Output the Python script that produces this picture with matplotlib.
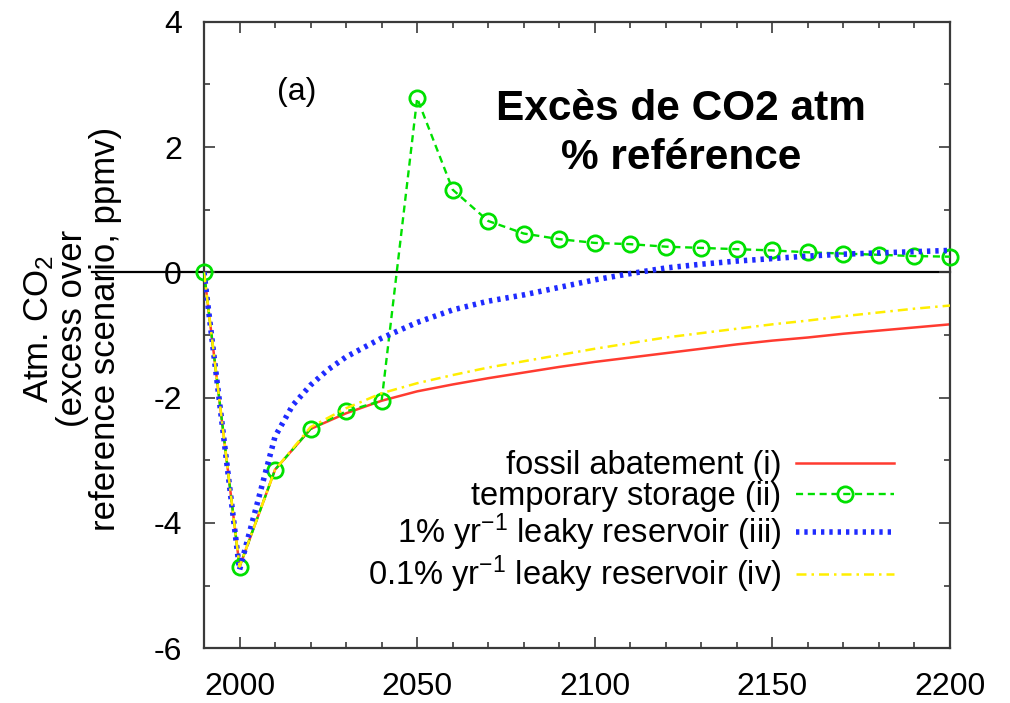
import numpy as np
import matplotlib
matplotlib.use('Agg')
import matplotlib.pyplot as plt

plt.rcParams['font.family'] = ['Liberation Sans', 'DejaVu Sans']
plt.rcParams['mathtext.fontset'] = 'custom'
plt.rcParams['mathtext.rm'] = 'Liberation Sans'
plt.rcParams['mathtext.it'] = 'Liberation Sans'
plt.rcParams['axes.unicode_minus'] = False

# fossil abatement (i)
yr_fossil = [1990, 2000, 2010, 2020, 2030, 2040, 2050, 2060, 2070, 2080, 2090, 2100,
             2110, 2120, 2130, 2140, 2150, 2160, 2170, 2180, 2190, 2200]
co2_fossil = [0, -4.7, -3.15, -2.5, -2.25, -2.05, -1.9, -1.79, -1.69, -1.6, -1.51, -1.43,
              -1.36, -1.29, -1.22, -1.15, -1.09, -1.04, -0.98, -0.93, -0.88, -0.83]

# temporary storage (ii)
yr_temp = [1990, 2000, 2010, 2020, 2030, 2040, 2050, 2060, 2070, 2080, 2090, 2100,
           2110, 2120, 2130, 2140, 2150, 2160, 2170, 2180, 2190, 2200]
co2_temp = [0, -4.7, -3.15, -2.5, -2.22, -2.05, 2.78, 1.32, 0.82, 0.62, 0.53, 0.47,
            0.45, 0.41, 0.39, 0.37, 0.35, 0.32, 0.30, 0.28, 0.26, 0.25]

# 1% per year leaky reservoir (iii)
yr_leak1 = [1990, 2000, 2010, 2015, 2020, 2025, 2030, 2040, 2050, 2060, 2070, 2080, 2090,
            2100, 2110, 2120, 2130, 2140, 2150, 2160, 2170, 2180, 2190, 2200]
co2_leak1 = [0, -4.75, -2.62, -2.12, -1.8, -1.55, -1.35, -1.05, -0.8, -0.6, -0.46, -0.36, -0.24,
             -0.12, -0.02, 0.07, 0.13, 0.18, 0.22, 0.26, 0.29, 0.31, 0.33, 0.35]

# 0.1% per year leaky reservoir (iv)
yr_leak01 = [1990, 2000, 2010, 2020, 2030, 2040, 2050, 2060, 2070, 2080, 2090, 2100,
             2110, 2120, 2130, 2140, 2150, 2160, 2170, 2180, 2190, 2200]
co2_leak01 = [0, -4.7, -3.15, -2.47, -2.17, -1.93, -1.77, -1.64, -1.52, -1.42, -1.32, -1.22,
              -1.13, -1.04, -0.97, -0.9, -0.83, -0.77, -0.7, -0.64, -0.58, -0.53]

labels = ['fossil abatement (i)',
          'temporary storage (ii)',
          '1% yr$^{-1}$ leaky reservoir (iii)',
          '0.1% yr$^{-1}$ leaky reservoir (iv)']

fig = plt.figure(figsize=(10.1, 7.03), dpi=100)
ax = fig.add_axes([0.202, 0.078, 0.7386, 0.891])

ax.axhline(0, xmin=-0.15, xmax=1, color='k', lw=1.6, clip_on=False, zorder=1)

ax.plot(yr_fossil, co2_fossil, '-', color='#ff3b30', lw=1.8, label=labels[0], zorder=2)
ax.plot(yr_temp, co2_temp, '--', color='#00e000', lw=1.7, marker='o', ms=11,
        mfc='none', mec='#00e000', mew=2, dashes=(3, 2), label=labels[1], zorder=3,
        clip_on=False)
ax.plot(yr_leak1, co2_leak1, ':', color='#1f2bff', lw=4, dashes=(0.6, 0.9),
        label=labels[2], zorder=4)
ax.plot(yr_leak01, co2_leak01, '-.', color='#ffee00', lw=1.8, dashes=(4, 2, 1, 2),
        label=labels[3], zorder=5)

ax.set_xlim(1990, 2200)
ax.set_ylim(-6, 4)
ax.set_xticks([2000, 2050, 2100, 2150, 2200])
ax.set_xticks(np.arange(1990, 2201, 10), minor=True)
ax.set_yticks([-6, -4, -2, 0, 2, 4])
ax.set_yticks(np.arange(-6, 5, 1), minor=True)
ax.tick_params(which='both', direction='in', top=True, right=True,
               labelsize=23, color='#3a3a3a', width=1.2)
ax.tick_params(which='major', length=8)
ax.tick_params(which='minor', length=4)
ax.tick_params(axis='y', pad=16)
ax.tick_params(axis='x', pad=17)
for s in ax.spines.values():
    s.set_linewidth(1.6)
    s.set_color('#3a3a3a')

ax.set_ylabel('Atm. CO$_2$\n(excess over\nreference scenario, ppmv)',
              fontsize=25, linespacing=1.0)
ax.yaxis.set_label_coords(-0.11, 0.51)

ax.text(0.124, 0.888, '(a)', transform=ax.transAxes, fontsize=23,
        ha='center', va='center')
ax.text(0.639, 0.822, 'Excès de CO2 atm\n% reférence', transform=ax.transAxes,
        fontsize=30.5, fontweight='bold', ha='center', va='center', linespacing=1.3)

ax.legend(loc='lower right', bbox_to_anchor=(0.925, 0.085), frameon=False,
          markerfirst=False, fontsize=23.5, handlelength=3.0, handletextpad=0.45,
          labelspacing=0.0, borderaxespad=0, borderpad=0, numpoints=1)

plt.savefig('out.png', dpi=100)
